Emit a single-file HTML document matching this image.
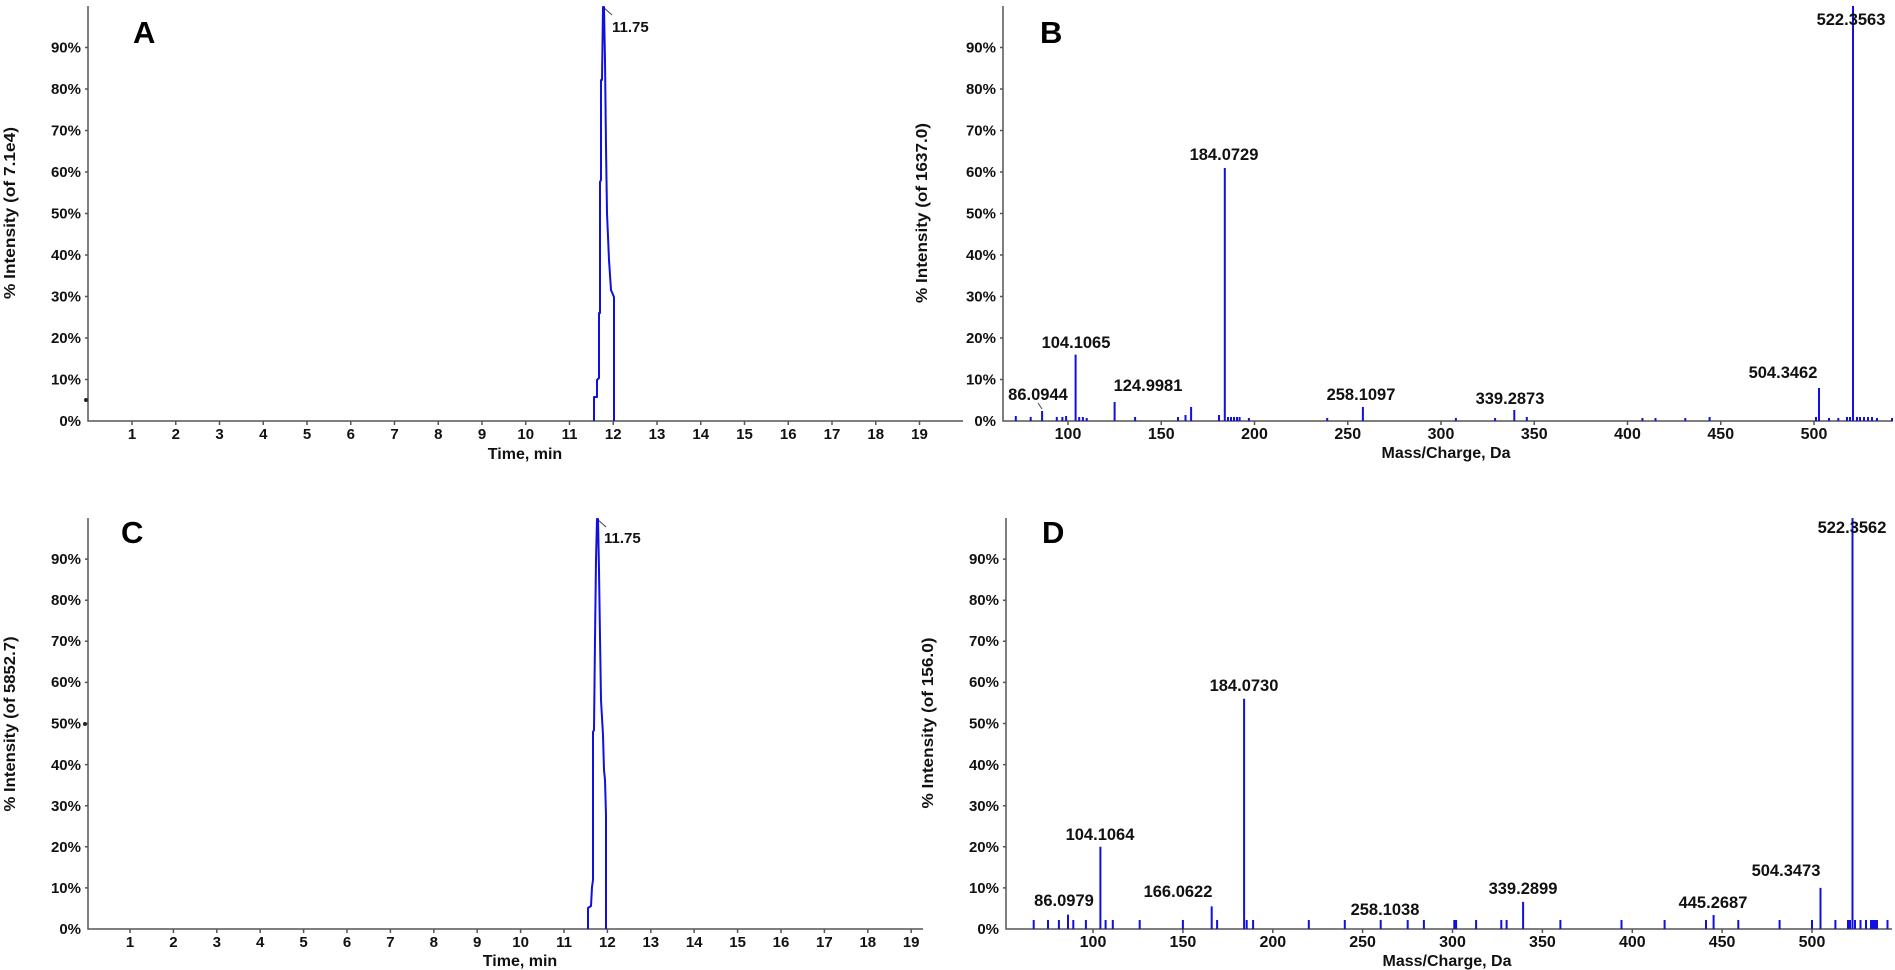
<!DOCTYPE html>
<html><head><meta charset="utf-8"><style>
html,body{margin:0;padding:0;background:#fff;}
svg{display:block;font-family:"Liberation Sans",Arial,sans-serif;font-weight:bold;}
</style></head><body>
<svg width="1895" height="970" viewBox="0 0 1895 970" xmlns="http://www.w3.org/2000/svg">
<g stroke="#555" stroke-width="1.5" fill="none">
<!-- A axes -->
<path d="M88,6 V421 H963"/>
<path d="M88,379.5h-3M88,338h-3M88,296.5h-3M88,255h-3M88,213.5h-3M88,172h-3M88,130.5h-3M88,89h-3M88,47.5h-3"/>
<path d="M132,421v4M175.75,421v4M219.5,421v4M263.25,421v4M307,421v4M350.75,421v4M394.5,421v4M438.25,421v4M482,421v4M525.75,421v4M569.5,421v4M613.25,421v4M657,421v4M700.75,421v4M744.5,421v4M788.25,421v4M832,421v4M875.75,421v4M919.5,421v4"/>
<!-- C axes -->
<path d="M88,518 V929 H923"/>
<path d="M88,887.9h-3M88,846.8h-3M88,805.7h-3M88,764.6h-3M88,723.5h-3M88,682.4h-3M88,641.3h-3M88,600.2h-3M88,559.1h-3"/>
<path d="M130,929v4M173.4,929v4M216.8,929v4M260.2,929v4M303.6,929v4M347,929v4M390.4,929v4M433.8,929v4M477.2,929v4M520.6,929v4M564,929v4M607.4,929v4M650.8,929v4M694.2,929v4M737.6,929v4M781,929v4M824.4,929v4M867.8,929v4M911.2,929v4"/>
<!-- B axes -->
<path d="M1003,6 V421 H1893"/>
<path d="M1003,379.5h-3M1003,338h-3M1003,296.5h-3M1003,255h-3M1003,213.5h-3M1003,172h-3M1003,130.5h-3M1003,89h-3M1003,47.5h-3"/>
<path d="M1068,421v4M1161.25,421v4M1254.5,421v4M1347.75,421v4M1441,421v4M1534.25,421v4M1627.5,421v4M1720.75,421v4M1814,421v4"/>
<!-- D axes -->
<path d="M1006,518 V929 H1892"/>
<path d="M1006,887.9h-3M1006,846.8h-3M1006,805.7h-3M1006,764.6h-3M1006,723.5h-3M1006,682.4h-3M1006,641.3h-3M1006,600.2h-3M1006,559.1h-3"/>
<path d="M1093,929v4M1182.9,929v4M1272.8,929v4M1362.6,929v4M1452.5,929v4M1542.4,929v4M1632.3,929v4M1722.1,929v4M1812,929v4"/>
<!-- leaders -->
<path d="M603,7 L612,15M597,519 L606,527M1038,403 L1042,409" stroke="#444" stroke-width="1"/>
</g>
<circle cx="86" cy="400" r="2" fill="#223"/>
<circle cx="85" cy="724" r="2" fill="#223"/>

<!-- chromatograms -->
<g stroke="#1010e0" stroke-width="2" fill="none" stroke-linejoin="round">
<path d="M594,421 L594,397 L597,397 L597,380 L599,378 L599,313 L600,313 L600,182 L601,180 L601,80 L602,80 L603,7 L604,7 L605,60 L606,147 L607,213 L609,260 L611,290 L614,297 L614,421"/>
<path d="M588,929 L588,908 L591,906 L592,887 L593,880 L593,732 L594,730 L595,640 L596,560 L597,519 L598,519 L599,570 L600,637 L601,700 L603,735 L604,770 L605,780 L606,815 L606,929"/>
</g>

<!-- B sticks -->
<g stroke="#1010e0" stroke-width="2">
<path d="M1015.8,421V416M1030.7,421V417M1042.1,421V411M1056.8,421V417M1062.4,421V417M1066.1,421V416M1075.6,421V354.6M1079.2,421V417M1082.9,421V417M1086.7,421V418M1114.6,421V402M1135.1,421V417M1178,421V417M1185.5,421V415M1191.1,421V407M1219,421V415M1224.8,421V168M1228,421V417M1231,421V417M1234,421V417M1237,421V417M1239.6,421V417M1248.9,421V418M1327.2,421V418M1362.9,421V407M1455.9,421V418M1495.1,421V418M1514.3,421V410M1526.8,421V417M1642.4,421V418M1655.5,421V418M1685.3,421V418M1709.6,421V417M1816,421V417M1819,421V388M1829,421V418M1838.3,421V418M1847,421V417M1850,421V417M1853,421V6M1857,421V417M1860,421V417M1864,421V417M1868,421V417M1872,421V417M1877,421V418M1892,421V418"/>
</g>
<!-- D sticks -->
<g stroke="#1010e0" stroke-width="2">
<path d="M1033.7,929V920M1048,929V920M1058.9,929V920M1068,929V914.6M1073.3,929V920M1085.9,929V920M1100.4,929V846.8M1105.6,929V920M1112.8,929V920M1139.7,929V920M1182.9,929V920M1211.7,929V906.4M1217.1,929V920M1244.1,929V698.8M1246.7,929V920M1253.1,929V920M1308.8,929V920M1344.8,929V920M1380.7,929V920M1407.7,929V920M1423.9,929V920M1454.3,929V920M1456.1,929V920M1476.1,929V920M1501.3,929V920M1506.6,929V920M1523.1,929V901.9M1560.4,929V920M1621.5,929V920M1664.6,929V920M1706,929V920M1713.6,929V915M1738.3,929V920M1779.6,929V920M1812,929V920M1820.5,929V887.9M1835.4,929V920M1848,929V920M1850,929V920M1852.5,929V518M1855,929V920M1860.5,929V920M1866,929V920M1871,929V920M1873,929V920M1875,929V920M1877,929V920M1887.5,929V920"/>
</g>

<g fill="#111" font-size="15" text-anchor="end">
<text x="81" y="426">0%</text><text x="81" y="384.5">10%</text><text x="81" y="343">20%</text><text x="81" y="301.5">30%</text><text x="81" y="260">40%</text><text x="81" y="218.5">50%</text><text x="81" y="177">60%</text><text x="81" y="135.5">70%</text><text x="81" y="94">80%</text><text x="81" y="52.5">90%</text>
<text x="81" y="934">0%</text><text x="81" y="893">10%</text><text x="81" y="852">20%</text><text x="81" y="811">30%</text><text x="81" y="770">40%</text><text x="81" y="728.5">50%</text><text x="81" y="687">60%</text><text x="81" y="646">70%</text><text x="81" y="605">80%</text><text x="81" y="564">90%</text>
<text x="996" y="426">0%</text><text x="996" y="384.5">10%</text><text x="996" y="343">20%</text><text x="996" y="301.5">30%</text><text x="996" y="260">40%</text><text x="996" y="218.5">50%</text><text x="996" y="177">60%</text><text x="996" y="135.5">70%</text><text x="996" y="94">80%</text><text x="996" y="52.5">90%</text>
<text x="999" y="934">0%</text><text x="999" y="893">10%</text><text x="999" y="852">20%</text><text x="999" y="811">30%</text><text x="999" y="770">40%</text><text x="999" y="728.5">50%</text><text x="999" y="687">60%</text><text x="999" y="646">70%</text><text x="999" y="605">80%</text><text x="999" y="564">90%</text>
</g>

<g fill="#111" font-size="15" text-anchor="middle">
<text x="132" y="439">1</text><text x="175.75" y="439">2</text><text x="219.5" y="439">3</text><text x="263.25" y="439">4</text><text x="307" y="439">5</text><text x="350.75" y="439">6</text><text x="394.5" y="439">7</text><text x="438.25" y="439">8</text><text x="482" y="439">9</text><text x="525.75" y="439">10</text><text x="569.5" y="439">11</text><text x="613.25" y="439">12</text><text x="657" y="439">13</text><text x="700.75" y="439">14</text><text x="744.5" y="439">15</text><text x="788.25" y="439">16</text><text x="832" y="439">17</text><text x="875.75" y="439">18</text><text x="919.5" y="439">19</text>
<text x="130" y="947">1</text><text x="173.4" y="947">2</text><text x="216.8" y="947">3</text><text x="260.2" y="947">4</text><text x="303.6" y="947">5</text><text x="347" y="947">6</text><text x="390.4" y="947">7</text><text x="433.8" y="947">8</text><text x="477.2" y="947">9</text><text x="520.6" y="947">10</text><text x="564" y="947">11</text><text x="607.4" y="947">12</text><text x="650.8" y="947">13</text><text x="694.2" y="947">14</text><text x="737.6" y="947">15</text><text x="781" y="947">16</text><text x="824.4" y="947">17</text><text x="867.8" y="947">18</text><text x="911.2" y="947">19</text>
<text x="1068" y="439" font-size="16">100</text><text x="1161.25" y="439" font-size="16">150</text><text x="1254.5" y="439" font-size="16">200</text><text x="1347.75" y="439" font-size="16">250</text><text x="1441" y="439" font-size="16">300</text><text x="1534.25" y="439" font-size="16">350</text><text x="1627.5" y="439" font-size="16">400</text><text x="1720.75" y="439" font-size="16">450</text><text x="1814" y="439" font-size="16">500</text>
<text x="1093" y="947" font-size="16">100</text><text x="1182.9" y="947" font-size="16">150</text><text x="1272.8" y="947" font-size="16">200</text><text x="1362.6" y="947" font-size="16">250</text><text x="1452.5" y="947" font-size="16">300</text><text x="1542.4" y="947" font-size="16">350</text><text x="1632.3" y="947" font-size="16">400</text><text x="1722.1" y="947" font-size="16">450</text><text x="1812" y="947" font-size="16">500</text>

<text x="525" y="459" font-size="16">Time, min</text>
<text x="520" y="966" font-size="16">Time, min</text>
<text x="1446" y="458" font-size="16">Mass/Charge, Da</text>
<text x="1447" y="966" font-size="16">Mass/Charge, Da</text>

<!-- peak labels -->
<g font-size="16.5">
<text x="1038" y="400">86.0944</text><text x="1076" y="348">104.1065</text><text x="1148" y="391">124.9981</text><text x="1224" y="160">184.0729</text><text x="1361" y="400">258.1097</text><text x="1510" y="404">339.2873</text><text x="1783" y="378">504.3462</text><text x="1851" y="25">522.3563</text>
<text x="1064" y="906">86.0979</text><text x="1100" y="840">104.1064</text><text x="1178" y="897">166.0622</text><text x="1244" y="691">184.0730</text><text x="1385" y="915">258.1038</text><text x="1523" y="894">339.2899</text><text x="1713" y="908">445.2687</text><text x="1786" y="876">504.3473</text><text x="1852" y="533">522.3562</text>
</g>
</g>
<text x="612" y="32" font-size="15" fill="#111">11.75</text>
<text x="604" y="543" font-size="15" fill="#111">11.75</text>

<g font-size="31" fill="#000">
<text x="133" y="43">A</text><text x="1040" y="43">B</text><text x="121" y="543">C</text><text x="1042" y="543">D</text>
</g>

<g fill="#111" font-size="15.5" text-anchor="middle">
<text transform="translate(15,213) rotate(-90)" textLength="172" lengthAdjust="spacingAndGlyphs">% Intensity (of 7.1e4)</text>
<text transform="translate(927,213) rotate(-90)" textLength="180" lengthAdjust="spacingAndGlyphs">% Intensity (of 1637.0)</text>
<text transform="translate(15,724) rotate(-90)" textLength="175" lengthAdjust="spacingAndGlyphs">% Intensity (of 5852.7)</text>
<text transform="translate(933,723) rotate(-90)" textLength="171" lengthAdjust="spacingAndGlyphs">% Intensity (of 156.0)</text>
</g>
</svg>
</body></html>
